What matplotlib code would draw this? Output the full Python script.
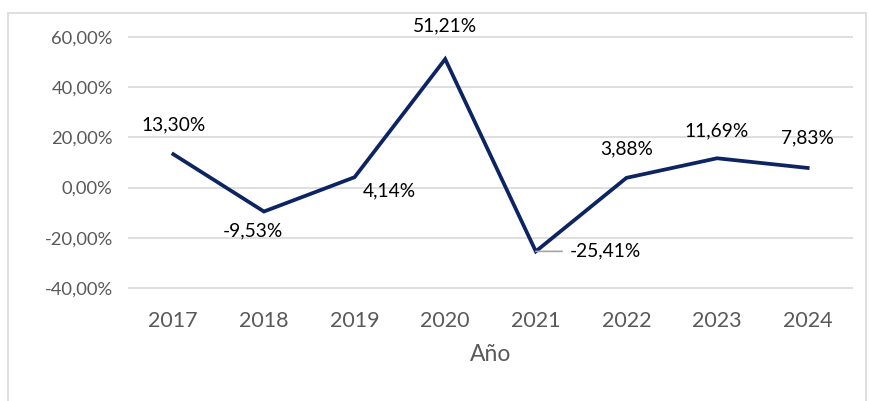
import matplotlib.pyplot as plt
from matplotlib.patches import Rectangle

years = ['2017', '2018', '2019', '2020', '2021', '2022', '2023', '2024']
variacion = [13.30, -9.53, 4.14, 51.21, -25.41, 3.88, 11.69, 7.83]
# offsets of the data labels (points) relative to each point
label_dx = [0, -8, 25, 0, 50, 0, 0, 0]
label_dy = [21, -14, -10, 24, 0, 21, 20, 22]

plt.rcParams['font.family'] = ['Lato', 'DejaVu Sans']
gris = '#595959'
azul = '#0c2461'

fig = plt.figure(figsize=(8.7, 4.01), dpi=100)
W, H = 870, 401
fig.patches.append(Rectangle((8 / W, -0.1), 858 / W, 1.1 - 13 / H,
                             transform=fig.transFigure, fill=False,
                             edgecolor='#d9d9d9', linewidth=1.2))

ax = fig.add_axes([128 / W, 1 - 290.5 / H, 725 / W, 256 / H])
x = list(range(len(years)))
ax.plot(x, variacion, color=azul, linewidth=2.7, solid_joinstyle='miter')

for i, v in enumerate(variacion):
    txt = f'{v:.2f}%'.replace('.', ',')
    ax.annotate(txt, (i, v), xytext=(label_dx[i], label_dy[i]),
                textcoords='offset points', ha='center', va='center',
                fontsize=13.8, color='black')
# leader line for the 2021 label
ax.annotate('', (4, variacion[4]), xytext=(19, 0), textcoords='offset points',
            arrowprops=dict(arrowstyle='-', color='#a6a6a6', lw=1.2,
                            shrinkA=0, shrinkB=0))

ax.set_xlim(-0.5, 7.5)
ax.set_ylim(-41, 61)
ax.set_yticks([-40, -20, 0, 20, 40, 60])
ax.set_yticklabels([f'{t:.2f}%'.replace('.', ',') for t in [-40, -20, 0, 20, 40, 60]])
ax.set_xticks(x)
ax.set_xticklabels(years)
ax.tick_params(axis='both', length=0, labelcolor=gris)
ax.tick_params(axis='y', labelsize=13.2, pad=11)
ax.tick_params(axis='x', labelsize=15.5, pad=15)
ax.yaxis.grid(True, color='#d9d9d9', linewidth=1.2)
ax.set_axisbelow(True)
for s in ax.spines.values():
    s.set_visible(False)
ax.set_xlabel('Año', fontsize=16.5, color=gris, labelpad=9)

plt.savefig('out.png', dpi=100)
